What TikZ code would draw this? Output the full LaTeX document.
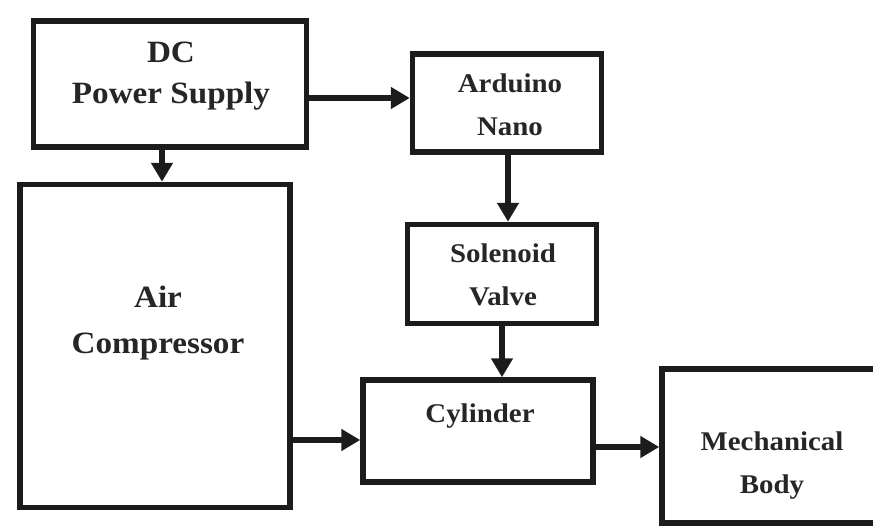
\documentclass[tikz,border=0pt]{standalone}
\usepackage{fontspec}
\setmainfont{Liberation Serif}[FakeStretch=1.07]
\usetikzlibrary{arrows.meta}
\definecolor{ink}{HTML}{1C1C1C}
\definecolor{txt}{HTML}{262626}
\begin{document}
\begin{tikzpicture}[x=1pt,y=-1pt,
  box/.style={draw=ink, line width=5.5pt, rectangle, inner sep=0pt},
  lblone/.style={font=\bfseries\fontsize{27}{43}\selectfont, align=center, text height=18.5pt, text depth=6pt, inner sep=0pt, text=txt},
  lblsmall/.style={font=\bfseries\fontsize{27}{43}\selectfont, align=center, text height=61.5pt, text depth=6pt, inner sep=0pt, text=txt},
  lbldc/.style={font=\bfseries\fontsize{31}{41}\selectfont, align=center, text height=62pt, text depth=7pt, inner sep=0pt, text=txt},
  lblair/.style={font=\bfseries\fontsize{31}{46}\selectfont, align=center, text height=67pt, text depth=7pt, inner sep=0pt, text=txt},
  arr/.style={draw=ink, line width=5.5pt, -{Triangle[length=19pt,width=21pt]}}
]
\useasboundingbox[fill=white] (0,0) rectangle (873,528);

% boxes
\node[box, minimum width=273pt, minimum height=126pt] (dc)   at (170,84)  {};
\node[box, minimum width=189pt, minimum height=98pt]  (ard)  at (507,103) {};
\node[box, minimum width=189pt, minimum height=99pt]  (sol)  at (502,274) {};
\node[box, minimum width=270pt, minimum height=323pt] (air)  at (155,346) {};
\node[box, minimum width=230pt, minimum height=102pt] (cyl)  at (478,431) {};
\node[box, minimum width=238pt, minimum height=154pt] (mech) at (781,446) {};

% labels
\node[lbldc]    (tdc)   at (171,76)  {DC\\Power Supply};
\node[lblair]   (tair)  at (158,323) {Air\\Compressor};
\node[lblsmall] (tard)  at (510,108) {Arduino\\Nano};
\node[lblsmall] (tsol)  at (503,278) {Solenoid\\Valve};
\node[lblone]   (tcyl)  at (480,416) {Cylinder};
\node[lblsmall] (tmech) at (772,466) {Mechanical\\Body};

% connectors
\coordinate (c1) at (0,98);
\coordinate (c2) at (162,0);
\coordinate (c3) at (508,0);
\coordinate (c4) at (502,0);
\coordinate (c5) at (0,440);
\coordinate (c6) at (0,447);
\draw[arr] (dc.east |- c1) -- (ard.west |- c1);
\draw[arr] (dc.south -| c2) -- (air.north -| c2);
\draw[arr] (ard.south -| c3) -- (sol.north -| c3);
\draw[arr] (sol.south -| c4) -- (cyl.north -| c4);
\draw[arr] (air.east |- c5) -- (cyl.west |- c5);
\draw[arr] (cyl.east |- c6) -- (mech.west |- c6);
\end{tikzpicture}
\end{document}
